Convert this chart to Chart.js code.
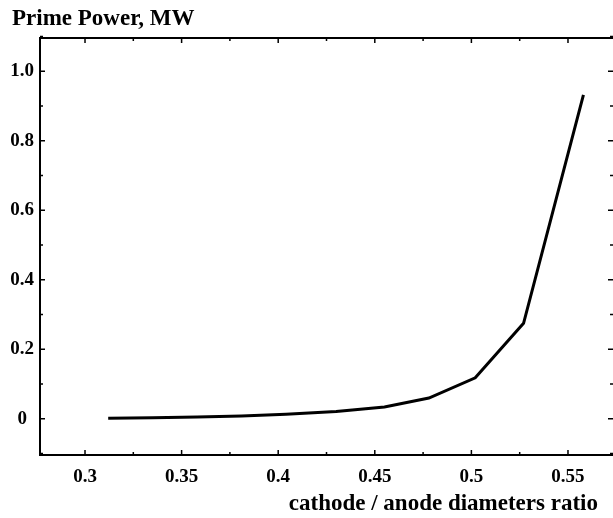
<!DOCTYPE html>
<html>
<head>
<meta charset="utf-8">
<script src="https://cdn.jsdelivr.net/npm/chart.js@4"></script>
<style>
  html, body { margin: 0; padding: 0; background: #fff; }
  #wrap { width: 613px; height: 518px; }
</style>
</head>
<body>
<div id="wrap"><canvas id="chart" width="613" height="518"></canvas></div>
<script>
// values
var ratio = [0.312, 0.335, 0.358, 0.381, 0.404, 0.430, 0.455, 0.478, 0.502, 0.527, 0.558];
var power = [0.002, 0.003, 0.005, 0.008, 0.013, 0.021, 0.034, 0.060, 0.118, 0.275, 0.932];
var xTicks = [0.3, 0.35, 0.4, 0.45, 0.5, 0.55];
var yTicks = [0, 0.2, 0.4, 0.6, 0.8, 1.0];
var yTickText = ['0', '0.2', '0.4', '0.6', '0.8', '1.0'];
var titleText = 'Prime Power, MW';
var xTitleText = 'cathode / anode diameters ratio';

var serif = '"Liberation Serif", "Times New Roman", serif';

var points = ratio.map((r, i) => ({ x: r, y: power[i] }));

// frame, inward ticks and titles
var framePlugin = {
	id: 'frame',
	afterDraw(chart) {
		var ctx = chart.ctx;
		var a = chart.chartArea;
		var xs = chart.scales.x, ys = chart.scales.y;
		ctx.save();
		ctx.strokeStyle = '#000';
		ctx.lineWidth = 2;
		ctx.beginPath();
		ctx.moveTo(a.left, a.top); ctx.lineTo(a.right, a.top);
		ctx.moveTo(a.left, a.top - 1); ctx.lineTo(a.left, a.bottom + 1);
		ctx.moveTo(a.left, a.bottom); ctx.lineTo(a.right, a.bottom);
		ctx.stroke();

		ctx.lineWidth = 1.5;
		ctx.beginPath();
		for (var v = 0.3; v < 0.57; v += 0.025) {
			var px = xs.getPixelForValue(v);
			var len = (Math.round(v * 1000) % 50 === 0) ? 5 : 3;
			ctx.moveTo(px, a.bottom); ctx.lineTo(px, a.bottom - len);
			ctx.moveTo(px, a.top); ctx.lineTo(px, a.top + len);
		}
		for (var w = -0.1; w < 1.1; w += 0.1) {
			var py = ys.getPixelForValue(w);
			var l2 = (Math.round(w * 10) % 2 === 0) ? 5 : 3;
			ctx.moveTo(a.left, py); ctx.lineTo(a.left + l2, py);
			ctx.moveTo(a.right, py); ctx.lineTo(a.right - l2, py);
		}
		ctx.stroke();

		ctx.fillStyle = '#000';
		ctx.textBaseline = 'alphabetic';
		ctx.font = 'bold 23px ' + serif;
		ctx.textAlign = 'left';
		ctx.fillText(titleText, 12, 25);
		ctx.font = 'bold 23px ' + serif;
		ctx.textAlign = 'right';
		ctx.fillText(xTitleText, 598, 510);
		ctx.restore();
	}
};

var ctx = document.getElementById('chart').getContext('2d');
var mychart = new Chart(ctx, {
	type: 'line',
	data: {
		datasets: [{
			data: points,
			borderColor: '#000',
			borderWidth: 3,
			pointRadius: 0,
			tension: 0,
			fill: false
		}]
	},
	options: {
		responsive: false,
		animation: false,
		layout: { padding: { top: 38, left: 0, right: 0, bottom: 0 } },
		plugins: {
			legend: { display: false },
			title: { display: false },
			tooltip: { enabled: false }
		},
		scales: {
			x: {
				type: 'linear',
				min: 0.2767,
				max: 0.5733,
				grid: { display: false, drawTicks: false },
				border: { display: false },
				afterBuildTicks: (s) => { s.ticks = xTicks.map(v => ({ value: v })); },
				afterFit: (s) => { s.height = 63; },
				ticks: {
					color: '#000',
					padding: 11,
					maxRotation: 0,
					font: { family: serif, size: 19, weight: 'bold' },
					callback: (v) => String(v)
				}
			},
			y: {
				type: 'linear',
				min: -0.104,
				max: 1.096,
				grid: { display: false, drawTicks: false },
				border: { display: false },
				afterBuildTicks: (s) => { s.ticks = yTicks.map(v => ({ value: v })); },
				afterFit: (s) => { s.width = 40; },
				ticks: {
					color: '#000',
					padding: 6,
					crossAlign: 'center',
					font: { family: serif, size: 19, weight: 'bold' },
					callback: (v) => yTickText[yTicks.indexOf(v)]
				}
			}
		}
	},
	plugins: [framePlugin]
});
</script>
</body>
</html>
